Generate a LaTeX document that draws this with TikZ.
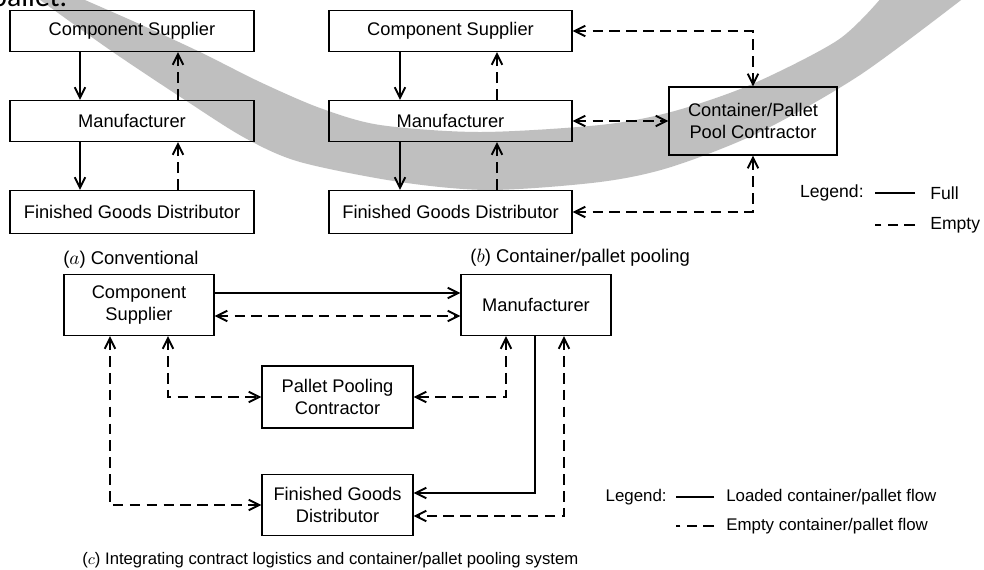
\documentclass[tikz,border=0pt]{standalone}
\usepackage{fontspec}
\setmainfont{Liberation Sans}
\newfontfamily\slidefont{Carlito}
\usetikzlibrary{arrows.meta}

\newcommand{\px}{0.02cm}
\tikzset{
  box/.style={draw, line width=0.7pt, align=center, inner sep=0pt,
    font=\fontsize{10.4}{12.6}\selectfont},
  full/.style={line width=1.1pt},
  empty/.style={line width=1.1pt, dash pattern=on 6pt off 3.6pt},
  subcap/.style={anchor=west, inner sep=0pt, font=\fontsize{10.5}{12}\selectfont},
  legtext/.style={inner sep=0pt, font=\fontsize{9.6}{11}\selectfont}
}

\begin{document}
\begin{tikzpicture}[x=\px, y=-\px, >={Straight Barb[length=6pt,width=6pt]}]
  \useasboundingbox (0,0) rectangle (984,569);
  \fill[white] (0,0) rectangle (984,569);

  % grey stroke across the top
  \begin{scope}
    \clip (0,0) rectangle (984,569);
    \fill[black!25] plot[smooth] coordinates {(36,-3) (110,50) (185,100) (245,138) (300,162) (400,182) (490,190) (600,182) (671,167) (760,132) (860,75) (965,-3)}
      -- plot[smooth] coordinates {(882,-3) (838,40) (750,85) (671,112) (600,125) (480,132) (380,125) (320,108) (260,82) (200,52) (135,22) (78,-3)}
      -- cycle;
  \end{scope}
  \node[anchor=base west, inner sep=0pt, font=\slidefont\fontsize{17}{20}\selectfont] (slide) at (-9,6) {pallet.};

  %% (a)
  \node[box, minimum width=244*\px, minimum height=41*\px] (aCS) at (132,31) {Component Supplier};
  \node[box, minimum width=244*\px, minimum height=41*\px] (aM) at (132,121) {Manufacturer};
  \node[box, minimum width=244*\px, minimum height=43*\px] (aFGD) at (132,212) {Finished Goods Distributor};
  \coordinate (aL) at (80,0);
  \coordinate (aR) at (178,0);
  \draw[full,->] (aCS.south -| aL) -- (aM.north -| aL);
  \draw[empty,->] (aM.north -| aR) -- (aCS.south -| aR);
  \draw[full,->] (aM.south -| aL) -- (aFGD.north -| aL);
  \draw[empty,->] (aFGD.north -| aR) -- (aM.south -| aR);
  \node[subcap] (capA) at (63,260) {($a$) Conventional};

  %% (b)
  \node[box, minimum width=243*\px, minimum height=41*\px] (bCS) at (450.5,31) {Component Supplier};
  \node[box, minimum width=243*\px, minimum height=41*\px] (bM) at (450.5,121) {Manufacturer};
  \node[box, minimum width=243*\px, minimum height=43*\px] (bFGD) at (450.5,212) {Finished Goods Distributor};
  \node[box, minimum width=168*\px, minimum height=68*\px] (bPool) at (753,121) {Container/Pallet\\Pool Contractor};
  \coordinate (bL) at (400,0);
  \coordinate (bR) at (497,0);
  \draw[full,->] (bCS.south -| bL) -- (bM.north -| bL);
  \draw[empty,->] (bM.north -| bR) -- (bCS.south -| bR);
  \draw[full,->] (bM.south -| bL) -- (bFGD.north -| bL);
  \draw[empty,->] (bFGD.north -| bR) -- (bM.south -| bR);
  \draw[empty,<->] (bCS.east) -- (bCS.east -| bPool.north) -- (bPool.north);
  \draw[empty,<->] (bM.east) -- (bPool.west);
  \draw[empty,<->] (bFGD.east) -- (bFGD.east -| bPool.south) -- (bPool.south);
  \node[subcap] (capB) at (470,258) {($b$) Container/pallet pooling};

  \node[legtext, anchor=east, font=\fontsize{10}{12}\selectfont] (bLeg) at (864,193) {Legend:};
  \node[legtext, anchor=west, font=\fontsize{10}{12}\selectfont] (bFull) at (930,193) {Full};
  \node[legtext, anchor=west, font=\fontsize{10}{12}\selectfont] (bEmpty) at (930,225) {Empty};
  \draw[full] ([xshift=-15*\px]bFull.west) -- ++(-40,0);
  \draw[empty] ([xshift=-15*\px]bEmpty.west) -- ++(-40,0);

  %% (c)
  \node[box, minimum width=150*\px, minimum height=61*\px] (cCS) at (139,305) {Component\\Supplier};
  \node[box, minimum width=150*\px, minimum height=61*\px] (cM) at (536,305) {Manufacturer};
  \node[box, minimum width=151*\px, minimum height=62*\px] (cPool) at (337.5,397) {Pallet Pooling\\Contractor};
  \node[box, minimum width=151*\px, minimum height=61*\px] (cFGD) at (337.5,505) {Finished Goods\\Distributor};
  \coordinate (cT) at (0,293);
  \coordinate (cB) at (0,316);
  \coordinate (cU) at (0,493);
  \coordinate (cD) at (0,516);
  \coordinate (c1) at (110,0);
  \coordinate (c2) at (168,0);
  \coordinate (c3) at (506,0);
  \coordinate (c4) at (535,0);
  \coordinate (c5) at (564,0);
  \draw[full,->] (cCS.east |- cT) -- (cM.west |- cT);
  \draw[empty,<->] (cCS.east |- cB) -- (cM.west |- cB);
  \draw[empty,<->] (cCS.south -| c1) -- (cFGD.west -| c1) -- (cFGD.west);
  \draw[empty,<->] (cCS.south -| c2) -- (cPool.west -| c2) -- (cPool.west);
  \draw[empty,<->] (cM.south -| c3) -- (cPool.east -| c3) -- (cPool.east);
  \draw[full,->] (cM.south -| c4) -- (c4 |- cU) -- (cFGD.east |- cU);
  \draw[empty,<->] (cM.south -| c5) -- (c5 |- cD) -- (cFGD.east |- cD);
  \node[subcap, font=\fontsize{9.5}{11}\selectfont] (capC) at (82,560) {($c$) Integrating contract logistics and container/pallet pooling system};

  \node[legtext, anchor=east] (cLeg) at (667,497) {Legend:};
  \node[legtext, anchor=west] (cLoaded) at (726,497) {Loaded container/pallet flow};
  \node[legtext, anchor=west] (cEmpty) at (726,526) {Empty container/pallet flow};
  \draw[full] ([xshift=-12*\px]cLoaded.west) -- ++(-38,0);
  \draw[empty] ([xshift=-12*\px]cEmpty.west) -- ++(-38,0);
\end{tikzpicture}
\end{document}
